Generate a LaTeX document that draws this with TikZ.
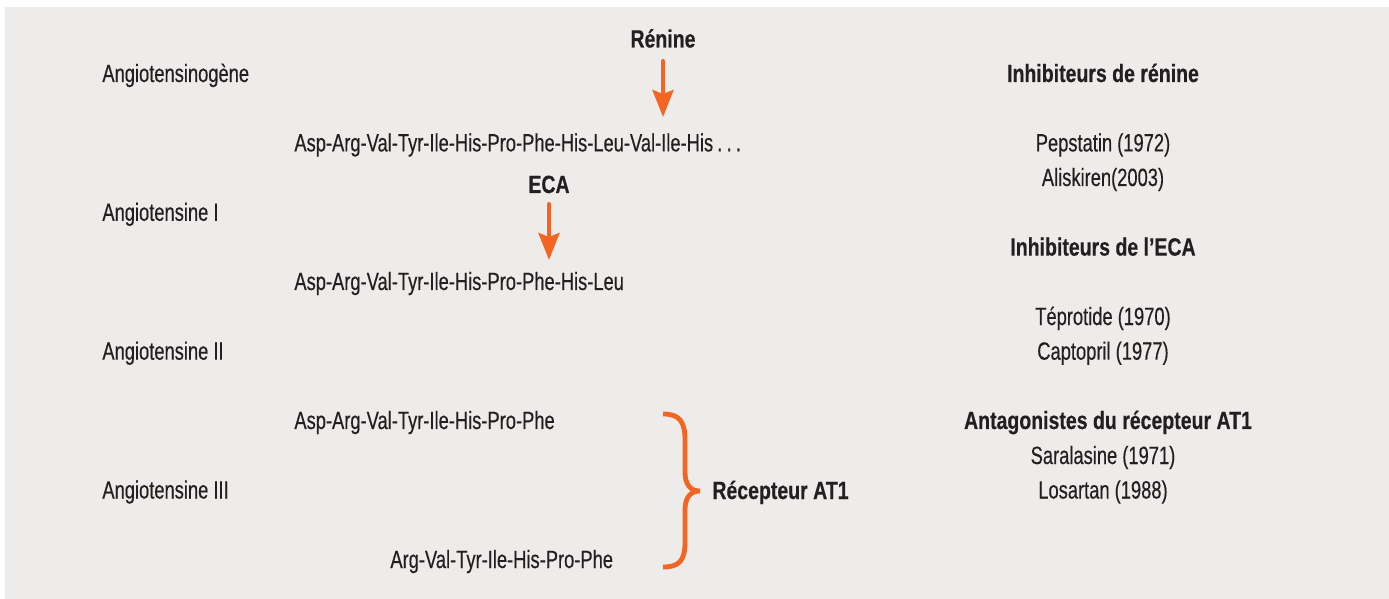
\documentclass[tikz,border=0pt]{standalone}
\usepackage{fontspec}
\setmainfont{Liberation Sans}[FakeStretch=0.733,FakeBold=0.35,BoldFeatures={FakeStretch=0.78,FakeBold=0.35}]
\usetikzlibrary{arrows.meta}
\definecolor{panel}{HTML}{EDECEA}
\definecolor{accent}{HTML}{F26522}
\definecolor{ink}{HTML}{231F20}

\begin{document}
\begin{tikzpicture}[x=0.5pt,y=-0.5pt,
  lbl/.style={inner sep=0pt, text=ink, font=\fontsize{12.5pt}{15pt}\selectfont},
  lft/.style={lbl, anchor=base west},
  ctr/.style={lbl, anchor=base},
  hd/.style={lbl, anchor=base, font=\fontsize{12.5pt}{15pt}\selectfont\bfseries},
  hdl/.style={hd, anchor=base west},
  enz/.style={-{Stealth[length=13.5pt,width=10.5pt,inset=2pt]}, line width=2pt, draw=accent, fill=accent, line cap=round},
  brace/.style={draw=accent, line width=2.4pt}]

% canvas and panel
\useasboundingbox (0,0) rectangle (1389,599);
\fill[panel] (5,7) rectangle (1389,599);

% peptide names
\node[lft] (agen)  at (102,82)    {Angiotensinogène};
\node[lft] (ang1)  at (102,220.8) {Angiotensine I};
\node[lft] (ang2)  at (102,359.7) {Angiotensine II};
\node[lft] (ang3)  at (102,498.5) {Angiotensine III};

% sequences
\node[lft] (seq0) at (294,151.4) {Asp-Arg-Val-Tyr-Ile-His-Pro-Phe-His-Leu-Val-Ile-His\,.\,.\,.};
\node[lft] (seq1) at (294,290)   {Asp-Arg-Val-Tyr-Ile-His-Pro-Phe-His-Leu};
\node[lft] (seq2) at (294,429)   {Asp-Arg-Val-Tyr-Ile-His-Pro-Phe};
\node[lft] (seq3) at (390,568)   {Arg-Val-Tyr-Ile-His-Pro-Phe};

% enzymes and their cleavage arrows
\node[hd] (renine) at (663,47.5) {Rénine};
\node[hd] (eca)    at (549,193)  {ECA};
\coordinate (rA) at (663,61);
\coordinate (rB) at (663,117);
\coordinate (eA) at (549,204);
\coordinate (eB) at (549,260);
\draw[enz] (rA) -- (rB);
\draw[enz] (eA) -- (eB);

% receptor brace
\coordinate (bt) at (663,414);
\coordinate (bm) at (700,491);
\coordinate (bb) at (663,567);
\draw[brace] (bt) .. controls (679,414) and (685,421) .. (685,440)
  -- (685,472) .. controls (685,484) and (690,491) .. (bm)
  .. controls (690,491) and (685,498) .. (685,510)
  -- (685,542) .. controls (685,561) and (679,567) .. (bb);
\node[hdl] (at1) at (712,499) {Récepteur AT1};

% inhibitors column
\node[hd]  (h1) at (1103,82)    {Inhibiteurs de rénine};
\node[ctr] (d1) at (1103,151.4) {Pepstatin (1972)};
\node[ctr] (d2) at (1103,186)   {Aliskiren(2003)};
\node[hd]  (h2) at (1103,255.6) {Inhibiteurs de l’ECA};
\node[ctr] (d3) at (1103,325)   {Téprotide (1970)};
\node[ctr] (d4) at (1103,359.7) {Captopril (1977)};
\node[hd]  (h3) at (1108,429)   {Antagonistes du récepteur AT1};
\node[ctr] (d5) at (1103,464)   {Saralasine (1971)};
\node[ctr] (d6) at (1103,498.5) {Losartan (1988)};
\end{tikzpicture}
\end{document}
